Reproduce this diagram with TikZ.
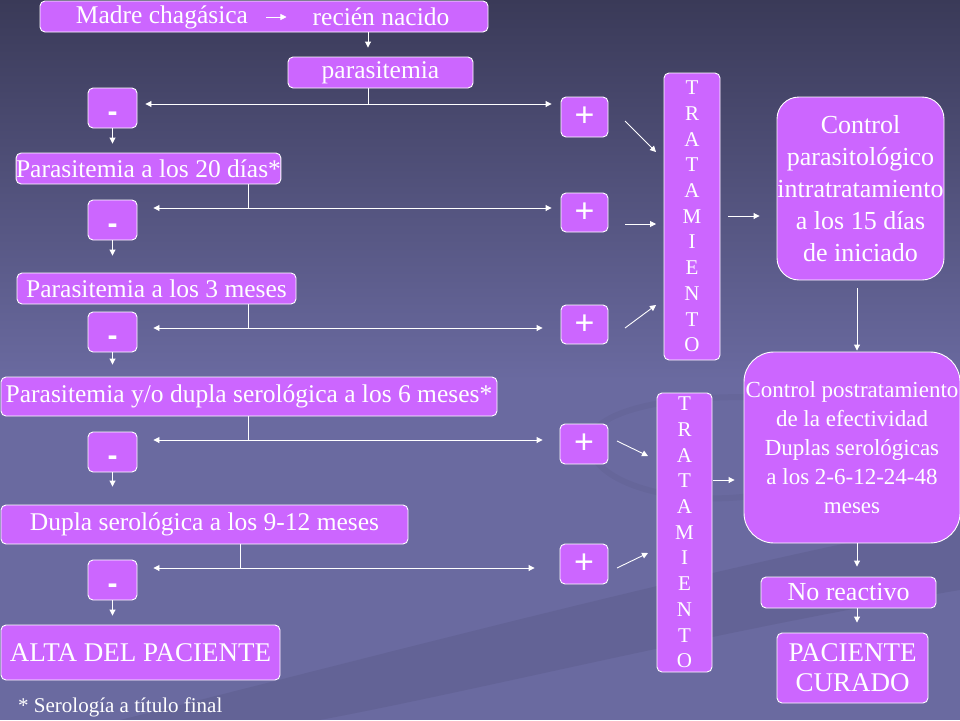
\documentclass[tikz,border=0pt]{standalone}
\usepackage{fontspec}
\setmainfont{Liberation Serif}
\newfontfamily\plusfont{Liberation Sans}
\usetikzlibrary{arrows.meta}
\definecolor{bgtop}{HTML}{3A3A58}
\definecolor{bgbot}{HTML}{6A6AA0}
\definecolor{boxc}{HTML}{CC66FF}
\begin{document}
\begin{tikzpicture}[x=1pt,y=-1pt,
 box/.style={draw=white, line width=0.9pt, fill=boxc, rounded corners=5pt, text=white, inner sep=0pt},
 mline/.style={box, align=center},
 arr/.style={draw=white, line width=0.9pt, -{Triangle[length=6pt,width=6pt]}},
 ln/.style={draw=white, line width=0.9pt},
 txt/.style={text=white, inner sep=0pt, font=\fontsize{25.5}{30}\selectfont},
 mbox/.style={box, minimum width=49pt, minimum height=40pt, text height=26pt, text depth=0pt, font=\plusfont\bfseries\fontsize{30}{30}\selectfont},
 pbox/.style={box, minimum width=47pt, minimum height=40pt, font=\plusfont\fontsize{34}{34}\selectfont},
 tbox/.style={mline, minimum width=56pt, font=\fontsize{21}{25.7}\selectfont}
]
\useasboundingbox (0,0) rectangle (960,720);
\fill[bgbot] (0,0) rectangle (960,720);
\shade[top color=bgtop, bottom color=bgbot] (0,0) rectangle (960,380);
% faint background swoosh
\begin{scope}
\clip (0,0) rectangle (960,720);
\fill[black, opacity=0.06] (120,720) .. controls (400,650) and (700,570) .. (960,520) -- (960,590) .. controls (720,630) and (480,690) .. (320,720) -- cycle;
\draw[black, opacity=0.035, line width=6pt] (960,430) .. controls (800,380) and (600,390) .. (590,440) .. controls (585,500) and (760,520) .. (820,470);
\end{scope}

% left column
\node[box, minimum width=448pt, minimum height=31pt] (top) at (264,16.5) {};
\node[txt] (madre) at (162,17) {Madre chagásica};
\node[txt] (recien) at (381,17) {recién nacido};
\node[box, txt, minimum width=185pt, minimum height=31pt] (para) at (380.5,72.5) {parasitemia};
\node[mbox] (m1) at (112.5,108) {-};
\node[box, txt, minimum width=263pt, minimum height=31pt] (p20) at (148.5,168.5) {Parasitemia a los 20 días*};
\node[mbox] (m2) at (112.5,220) {-};
\node[box, txt, minimum width=279pt, minimum height=31pt] (p3) at (156.5,288.5) {Parasitemia a los 3 meses};
\node[mbox] (m3) at (112.5,332) {-};
\node[box, txt, minimum width=496pt, minimum height=39pt] (p6) at (249,396.5) {Parasitemia y/o dupla serológica a los 6 meses*};
\node[mbox] (m4) at (112.5,452) {-};
\node[box, txt, minimum width=407pt, minimum height=39pt] (d9) at (204.5,524.5) {Dupla serológica a los 9-12 meses};
\node[mbox] (m5) at (112.5,580) {-};
\node[box, txt, minimum width=279pt, minimum height=55pt, font=\fontsize{27}{30}\selectfont] (alta) at (140.5,652.5) {ALTA DEL PACIENTE};
\node[txt, anchor=west, font=\fontsize{21}{24}\selectfont] (nota) at (18,707) {* Serología a título final};

% plus boxes
\node[pbox] (pl1) at (584.5,117) {+};
\node[pbox, minimum height=39pt] (pl2) at (584.5,212.5) {+};
\node[pbox, minimum height=39pt] (pl3) at (584.5,324.5) {+};
\node[pbox, minimum width=48pt] (pl4) at (584,444) {+};
\node[pbox, minimum width=48pt] (pl5) at (584,564) {+};

% tratamiento
\node[tbox, minimum height=287pt] (t1) at (692,216.5) {T\\R\\A\\T\\A\\M\\I\\E\\N\\T\\O};
\node[tbox, minimum width=55pt, minimum height=279pt] (t2) at (684.5,532.5) {T\\R\\A\\T\\A\\M\\I\\E\\N\\T\\O};

% right column
\node[mline, rounded corners=22pt, minimum width=167pt, minimum height=183pt, font=\fontsize{26}{32}\selectfont] (ctrl) at (860.5,188.5) {Control\\parasitológico\\intratratamiento\\a los 15 días\\de iniciado};
\node[mline, rounded corners=30pt, minimum width=216pt, minimum height=191pt, font=\fontsize{23}{29}\selectfont] (post) at (852,447.5) {Control postratamiento\\de la efectividad\\Duplas serológicas\\a los 2-6-12-24-48\\meses};
\node[box, txt, minimum width=175pt, minimum height=31pt, font=\fontsize{26}{30}\selectfont] (noreac) at (848.5,592.5) {No reactivo};
\node[mline, minimum width=151pt, minimum height=70pt, font=\fontsize{27}{30}\selectfont] (cured) at (852.5,668) {PACIENTE\\CURADO};

% coordinates
\coordinate (j0) at (368,104);
\coordinate (j1) at (248,208);
\coordinate (j2) at (248,328);
\coordinate (j3) at (248,440);
\coordinate (j4) at (240,568);

% arrows left column
\draw[arr, line width=0.7pt, shorten <=18pt, shorten >=26pt] (madre.east) -- (recien.west);
\draw[arr, shorten >=9pt] (top.south -| j0) -- (para.north -| j0);
\draw[ln] (para.south -| j0) -- (j0);
\draw[arr, shorten >=8pt] (j0) -- (j0 -| m1.east);
\draw[arr, shorten >=9pt] (j0) -- (j0 -| pl1.west);
\draw[arr, shorten >=9pt] (m1.south) -- (m1.south |- p20.north);

\draw[ln] (p20.south -| j1) -- (j1);
\draw[arr, shorten >=16pt] (j1) -- (j1 -| m2.east);
\draw[arr, shorten >=9pt] (j1) -- (j1 -| pl2.west);
\draw[arr, shorten >=17pt] (m2.south) -- (m2.south |- p3.north);

\draw[ln] (p3.south -| j2) -- (j2);
\draw[arr, shorten >=16pt] (j2) -- (j2 -| m3.east);
\draw[arr, shorten >=18pt] (j2) -- (j2 -| pl3.west);
\draw[arr, shorten >=12pt] (m3.south) -- (m3.south |- p6.north);

\draw[ln] (p6.south -| j3) -- (j3);
\draw[arr, shorten >=16pt] (j3) -- (j3 -| m4.east);
\draw[arr, shorten >=17pt] (j3) -- (j3 -| pl4.west);
\draw[arr, shorten >=18pt] (m4.south) -- (m4.south |- d9.north);

\draw[ln] (d9.south -| j4) -- (j4);
\draw[arr, shorten >=16pt] (j4) -- (j4 -| m5.east);
\draw[arr, shorten >=25pt] (j4) -- (j4 -| pl5.west);
\draw[arr, shorten >=9pt] (m5.south) -- (m5.south |- alta.north);

% diagonal arrows to tratamiento
\coordinate (a1s) at (625,121); \coordinate (a1e) at (656,152);
\coordinate (a2s) at (625,224); \coordinate (a2e) at (656,224);
\coordinate (a3s) at (625,328); \coordinate (a3e) at (656,305);
\coordinate (a4s) at (617,441); \coordinate (a4e) at (648,456);
\coordinate (a5s) at (617,568); \coordinate (a5e) at (648,553);
\draw[arr] (a1s) -- (a1e);
\draw[arr] (a2s) -- (a2e);
\draw[arr] (a3s) -- (a3e);
\draw[arr] (a4s) -- (a4e);
\draw[arr] (a5s) -- (a5e);

% right column arrows
\draw[arr, shorten <=8pt, shorten >=17pt] (t1.east |- 0,216) -- (ctrl.west |- 0,216);
\draw[arr, shorten <=8pt, shorten >=1pt] (ctrl.south -| 857,0) -- (post.north -| 857,0);
\draw[arr, shorten <=1pt, shorten >=9pt] (t2.east |- 0,480) -- (post.west |- 0,480);
\draw[arr, shorten >=10pt] (post.south -| 857,0) -- (noreac.north -| 857,0);
\draw[arr, shorten >=10pt] (noreac.south -| 857,0) -- (cured.north -| 857,0);
\end{tikzpicture}
\end{document}
